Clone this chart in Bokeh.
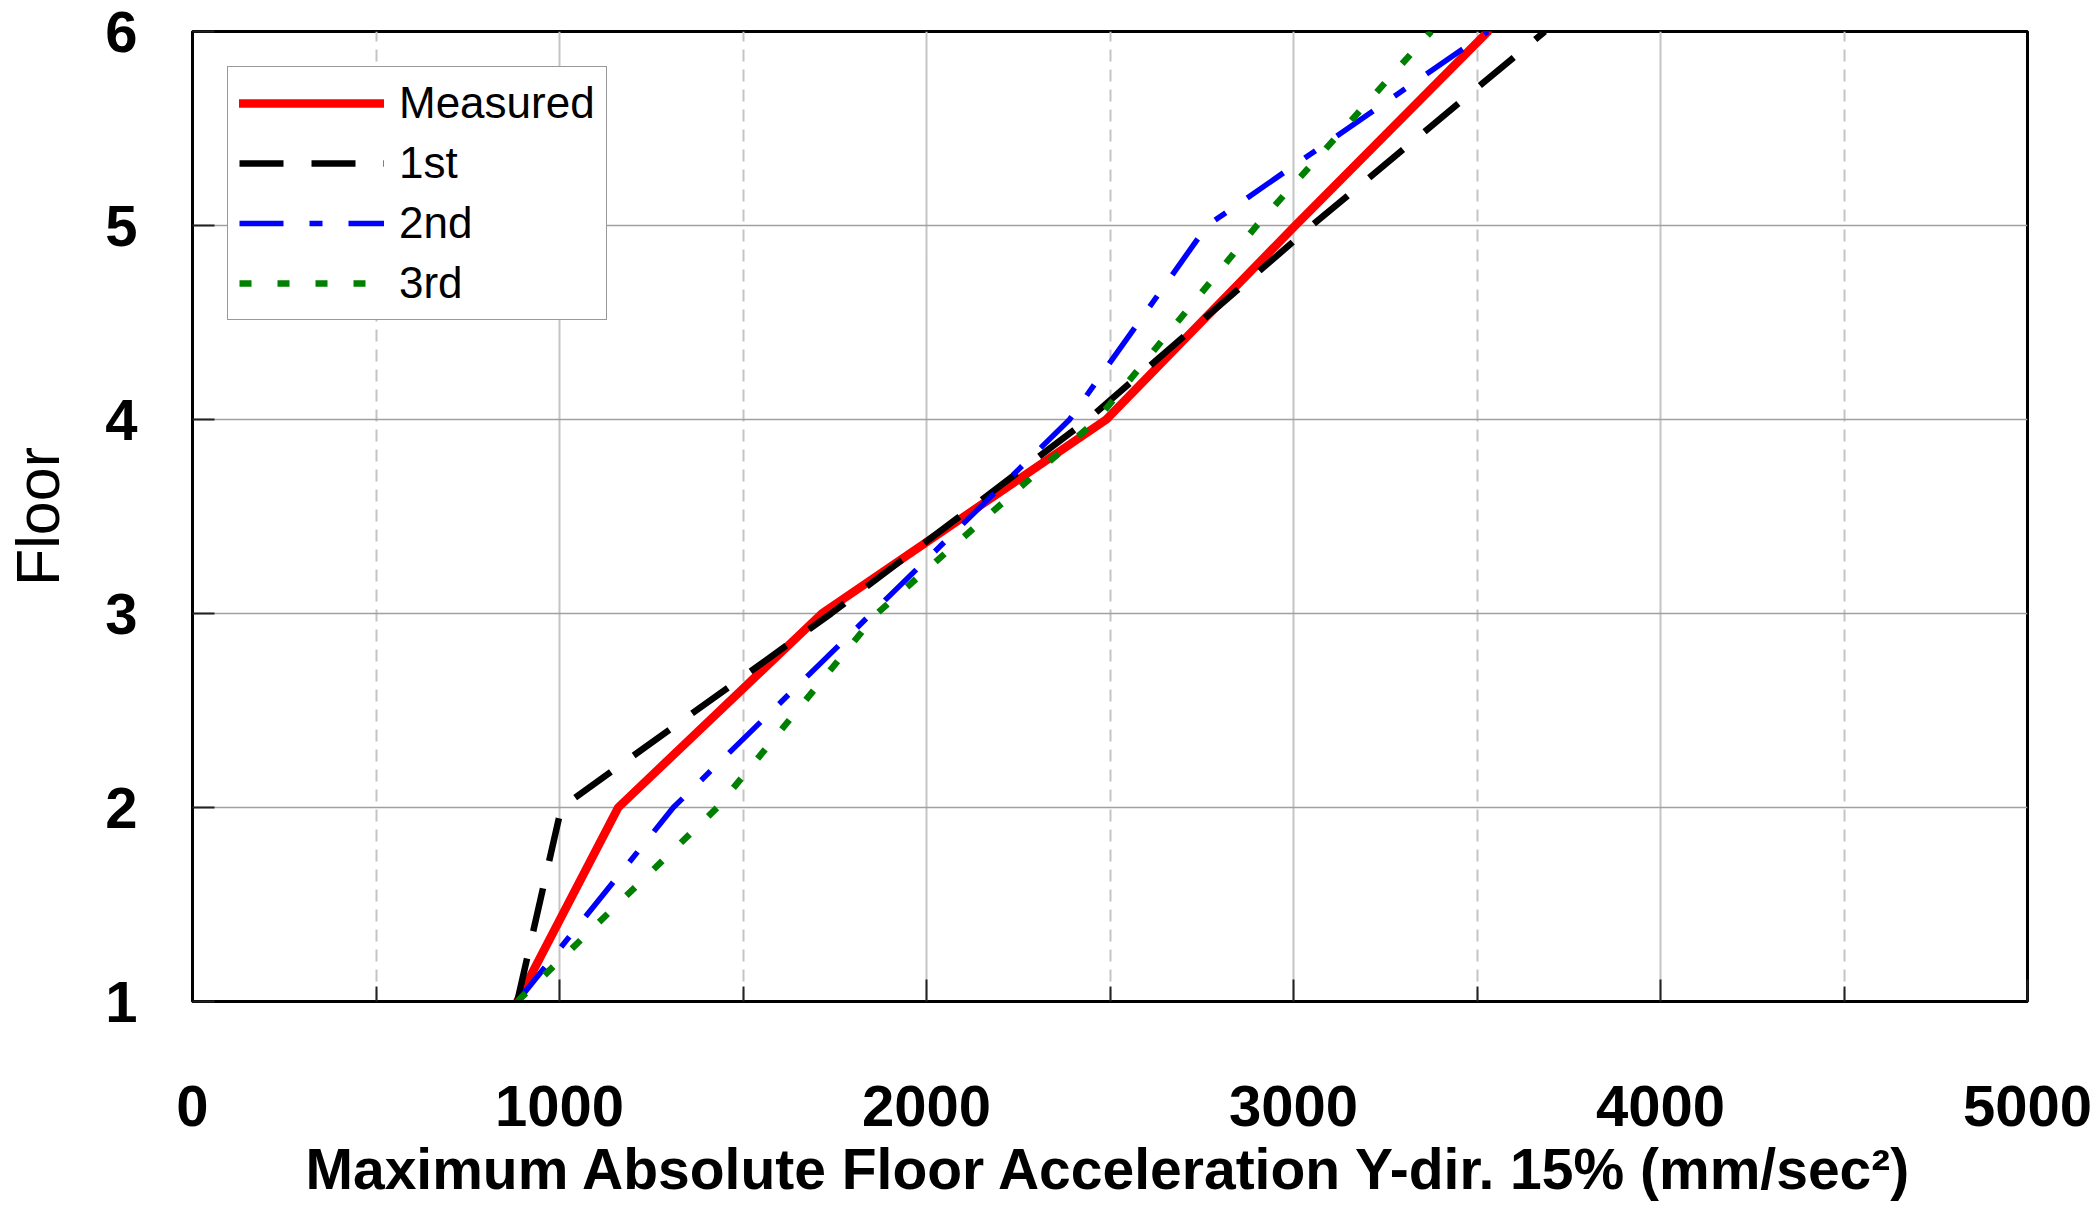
from bokeh.plotting import figure
from bokeh.models import FixedTicker, Legend, LegendItem, Range1d
from bokeh.embed import file_html
from bokeh.resources import INLINE

floors = [1, 2, 3, 4, 5, 6]
measured = [885, 1160, 1715, 2490, 3005, 3530]
first = [885, 1005, 1740, 2440, 3050, 3685]
second = [885, 1310, 1850, 2390, 2765, 3530]
third = [885, 1430, 1865, 2465, 2900, 3375]

x_ticks = [0, 1000, 2000, 3000, 4000, 5000]
x_minor = [500, 1500, 2500, 3500, 4500]
y_ticks = [1, 2, 3, 4, 5, 6]

FONT = "Liberation Sans"

p = figure(width=2097, height=1210, output_backend="svg", toolbar_location=None,
           x_range=Range1d(0, 5000), y_range=Range1d(1, 6),
           min_border_left=192, min_border_right=70, min_border_top=31, min_border_bottom=209,
           background_fill_color="white", border_fill_color="white")

p.outline_line_color = "black"
p.outline_line_width = 3

r_meas = p.line(measured, floors, line_color="#ff0000", line_width=8.5, line_join="round", line_cap="round")
r_1 = p.line(first, floors, line_color="black", line_width=6.5, line_dash="44 28")
r_2 = p.line(second, floors, line_color="#0000ff", line_width=5.5, line_dash="44 26 13 26")
r_3 = p.line(third, floors, line_color="#008000", line_width=6.5, line_dash="12 26")

xt = FixedTicker(ticks=x_ticks, minor_ticks=x_minor)
yt = FixedTicker(ticks=y_ticks, minor_ticks=[])
p.xaxis.ticker = xt
p.yaxis.ticker = yt

for ax in (p.xaxis[0], p.yaxis[0]):
    ax.axis_line_width = 3
    ax.axis_line_color = "black"
    ax.major_tick_in = 22
    ax.major_tick_out = 0
    ax.major_tick_line_color = "#222222"
    ax.major_tick_line_width = 2
    ax.minor_tick_in = 15
    ax.minor_tick_out = 0
    ax.minor_tick_line_color = "#222222"
    ax.minor_tick_line_width = 2
    ax.major_label_text_font = FONT
    ax.major_label_text_font_size = "58px"
    ax.major_label_text_font_style = "bold"
    ax.major_label_text_color = "black"
    ax.axis_label_text_font = FONT
    ax.axis_label_text_color = "black"

p.xaxis.major_label_standoff = 84
p.yaxis.major_label_standoff = 55
p.yaxis.minor_tick_line_color = None

p.xaxis.axis_label = "Maximum Absolute Floor Acceleration Y-dir. 15% (mm/sec\u00b2)"
p.xaxis.axis_label_text_font_size = "57px"
p.xaxis.axis_label_text_font_style = "bold"
p.xaxis.axis_label_standoff = 8

p.yaxis.axis_label = "Floor"
p.yaxis.axis_label_text_font_size = "61px"
p.yaxis.axis_label_text_font_style = "normal"
p.yaxis.axis_label_standoff = 30

p.xgrid.grid_line_color = "#c4c4c4"
p.xgrid.grid_line_width = 2
p.xgrid.minor_grid_line_color = "#c4c4c4"
p.xgrid.minor_grid_line_width = 2
p.xgrid.minor_grid_line_dash = "12 8"
p.ygrid.grid_line_color = "#a0a0a0"
p.ygrid.grid_line_width = 1.5

legend = Legend(items=[
    LegendItem(label="Measured", renderers=[r_meas]),
    LegendItem(label="1st", renderers=[r_1]),
    LegendItem(label="2nd", renderers=[r_2]),
    LegendItem(label="3rd", renderers=[r_3]),
], location="top_left")
legend.margin = 35
legend.padding = 11
legend.spacing = 10
legend.glyph_width = 145
legend.glyph_height = 40
legend.label_standoff = 15
legend.label_height = 40
legend.label_text_font = FONT
legend.label_text_font_size = "44px"
legend.label_text_color = "black"
legend.border_line_color = "#333333"
legend.border_line_width = 1.5
legend.background_fill_alpha = 1.0
legend.background_fill_color = "white"
p.add_layout(legend)

open("out.html", "w").write(file_html(p, INLINE))
